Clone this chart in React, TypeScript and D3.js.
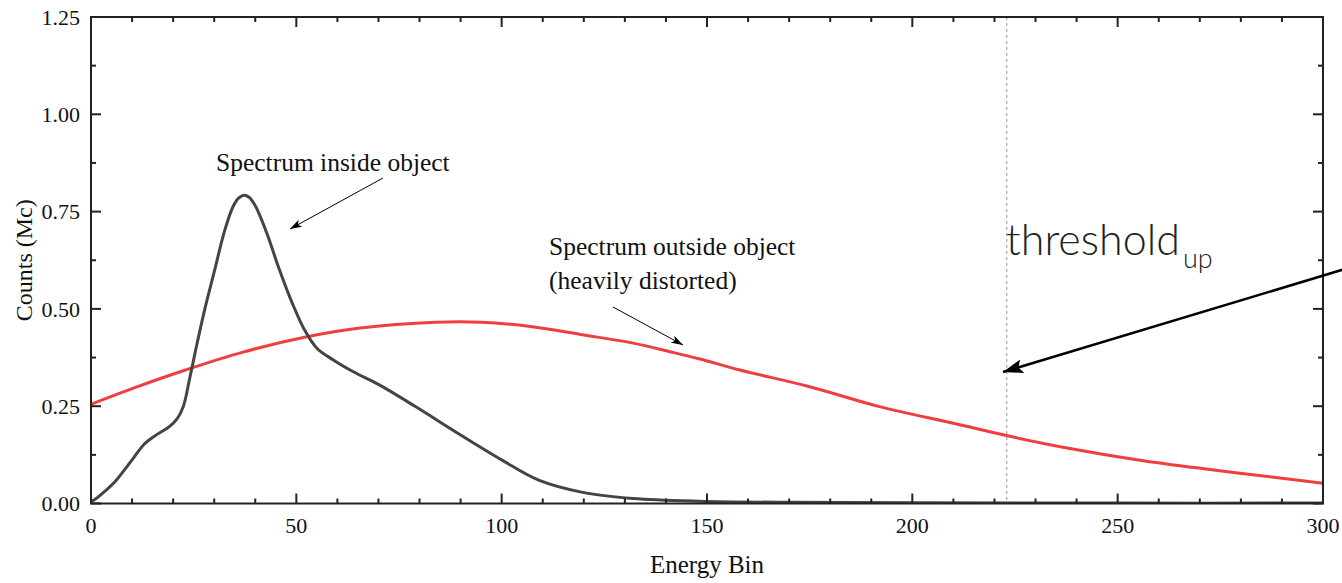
import React from "react";
import * as d3 from "d3";

const insideX = [0, 1, 3, 6, 10, 13, 16, 19, 21, 22.5, 24, 25.5, 27.5, 30, 32.6, 34.6, 36, 37.2, 38.5, 40, 42.8, 45.6, 49, 52, 55, 59, 64, 70, 79, 90, 100, 109, 120, 132, 148, 170, 200, 250, 300];
const insideY = [0.005, 0.011, 0.028, 0.058, 0.112, 0.153, 0.177, 0.197, 0.218, 0.250, 0.320, 0.395, 0.490, 0.595, 0.703, 0.763, 0.785, 0.792, 0.787, 0.765, 0.695, 0.609, 0.515, 0.446, 0.399, 0.369, 0.338, 0.306, 0.249, 0.176, 0.112, 0.06, 0.028, 0.013, 0.006, 0.003, 0.002, 0.001, 0.001];

const outsideX = [0, 11, 23, 37, 52, 65, 84, 95, 107, 120, 132, 141, 148, 158, 175, 192, 210, 224, 238, 255, 272, 290, 300];
const outsideY = [0.255, 0.299, 0.343, 0.389, 0.427, 0.45, 0.466, 0.466, 0.455, 0.433, 0.412, 0.39, 0.372, 0.343, 0.3, 0.249, 0.206, 0.172, 0.142, 0.112, 0.088, 0.065, 0.052];

const xMajorTicks = [0, 50, 100, 150, 200, 250, 300];
const yMajorTicks = [0, 0.25, 0.5, 0.75, 1.0, 1.25];
const thresholdBin = 223;

const W = 1342, H = 583;
const M = { left: 91, right: 1323, top: 17, bottom: 503.5 };

export default function App() {
  const x = d3.scaleLinear().domain([0, 300]).range([M.left, M.right]);
  const y = d3.scaleLinear().domain([0, 1.25]).range([M.bottom, M.top]);

  const line = d3.line<[number, number]>()
    .x((d) => x(d[0]))
    .y((d) => y(d[1]))
    .curve(d3.curveCatmullRom.alpha(0.5));

  const inside = line(insideX.map((v, i) => [v, insideY[i]]));
  const outside = line(outsideX.map((v, i) => [v, outsideY[i]]));

  const xMinor = d3.range(0, 301, 10).filter((v) => v % 50 !== 0);
  const yMinor = d3.range(0.125, 1.25, 0.25);

  const serif = "'Liberation Serif', 'Times New Roman', serif";
  const axisColor = "#222";

  return (
    <svg width={W} height={H} style={{ position: "absolute", left: 0, top: 0, background: "#fff" }} fontFamily={serif}>
      <defs>
        <marker id="headSmall" viewBox="0 0 12 8" refX="12" refY="4" markerWidth="12" markerHeight="8" markerUnits="userSpaceOnUse" orient="auto">
          <path d="M0,0 L12,4 L0,8 L3,4 Z" fill="#000" />
        </marker>
        <marker id="headBig" viewBox="0 0 20 14" refX="20" refY="7" markerWidth="20" markerHeight="14" markerUnits="userSpaceOnUse" orient="auto">
          <path d="M0,0 L20,7 L0,14 L4,7 Z" fill="#000" />
        </marker>
        <clipPath id="plotClip">
          <rect x={M.left} y={M.top} width={M.right - M.left} height={M.bottom - M.top} />
        </clipPath>
      </defs>

      <line x1={x(thresholdBin)} x2={x(thresholdBin)} y1={M.top} y2={M.bottom} stroke="#999" strokeWidth={1} strokeDasharray="3,3" />

      <g clipPath="url(#plotClip)">
        <path d={outside ?? ""} fill="none" stroke="#ef3e3e" strokeWidth={3} strokeLinejoin="round" />
        <path d={inside ?? ""} fill="none" stroke="#444" strokeWidth={3} strokeLinejoin="round" />
      </g>

      <rect x={M.left} y={M.top} width={M.right - M.left} height={M.bottom - M.top} fill="none" stroke={axisColor} strokeWidth={2} />

      {xMajorTicks.map((t) => (
        <g key={"xM" + t}>
          <line x1={x(t)} x2={x(t)} y1={M.bottom} y2={M.bottom - 10} stroke={axisColor} strokeWidth={2} />
          <line x1={x(t)} x2={x(t)} y1={M.top} y2={M.top + 10} stroke={axisColor} strokeWidth={2} />
          <text x={x(t)} y={M.bottom + 29} textAnchor="middle" fontSize={22} fill="#111">{t}</text>
        </g>
      ))}
      {xMinor.map((t) => (
        <g key={"xm" + t}>
          <line x1={x(t)} x2={x(t)} y1={M.bottom} y2={M.bottom - 5} stroke={axisColor} strokeWidth={2} />
          <line x1={x(t)} x2={x(t)} y1={M.top} y2={M.top + 5} stroke={axisColor} strokeWidth={2} />
        </g>
      ))}

      {yMajorTicks.map((t) => (
        <g key={"yM" + t}>
          <line x1={M.left} x2={M.left + 10} y1={y(t)} y2={y(t)} stroke={axisColor} strokeWidth={2} />
          <line x1={M.right} x2={M.right - 10} y1={y(t)} y2={y(t)} stroke={axisColor} strokeWidth={2} />
          <text x={80} y={y(t)} dy="0.35em" textAnchor="end" fontSize={22} fill="#111">{t.toFixed(2)}</text>
        </g>
      ))}
      {yMinor.map((t) => (
        <g key={"ym" + t}>
          <line x1={M.left} x2={M.left + 5} y1={y(t)} y2={y(t)} stroke={axisColor} strokeWidth={2} />
          <line x1={M.right} x2={M.right - 5} y1={y(t)} y2={y(t)} stroke={axisColor} strokeWidth={2} />
        </g>
      ))}

      <text x={(M.left + M.right) / 2} y={573} textAnchor="middle" fontSize={25} fill="#111">Energy Bin</text>
      <text transform={`translate(32,${(M.top + M.bottom) / 2}) rotate(-90)`} textAnchor="middle" fontSize={24} fill="#111">Counts (Mc)</text>

      <text x={216} y={171} fontSize={25.5} fill="#111">Spectrum inside object</text>
      <line x1={383} y1={178} x2={290} y2={229} stroke="#000" strokeWidth={1} markerEnd="url(#headSmall)" />

      <text x={549} y={255} fontSize={25.5} fill="#111">Spectrum outside object</text>
      <text x={549} y={289} fontSize={25.5} fill="#111">(heavily distorted)</text>
      <line x1={613} y1={307} x2={683} y2={345} stroke="#000" strokeWidth={1} markerEnd="url(#headSmall)" />

      <text x={1006} y={255} fontFamily="Lato, 'Open Sans', sans-serif" fontWeight={300} fontSize={43} fill="#222">
        threshold<tspan fontSize={27} dy={13} dx={3}>up</tspan>
      </text>
      <line x1={1345} y1={269} x2={1003} y2={372} stroke="#000" strokeWidth={2.5} markerEnd="url(#headBig)" />
    </svg>
  );
}
